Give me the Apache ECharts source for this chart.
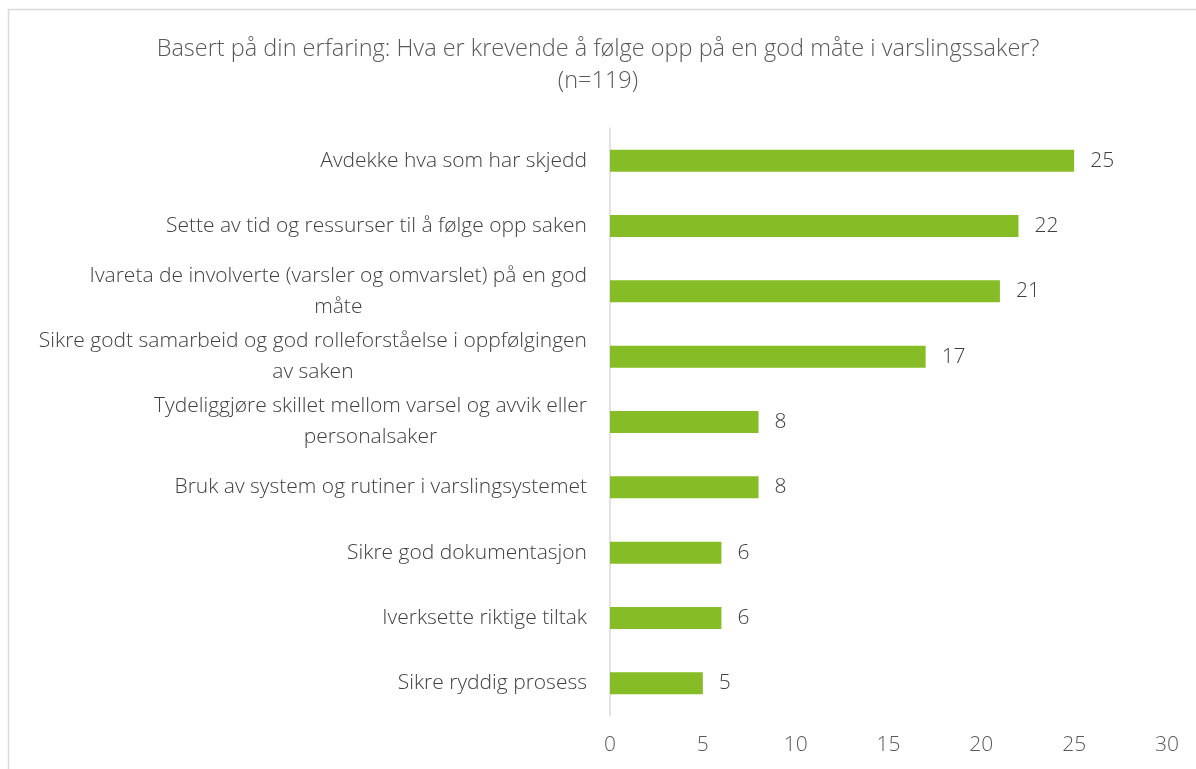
<!DOCTYPE html>
<html>
<head>
<meta charset="utf-8">
<script src="https://cdn.jsdelivr.net/npm/echarts@6/dist/echarts.min.js"></script>
<style>
  html, body { margin: 0; padding: 0; background: #fff; }
  #chart { width: 1196px; height: 769px; }
</style>
</head>
<body>
<div id="chart"></div>
<script>
// kategorier (ovenfra og ned), linjeskift som i originalen
const categories = [
  'Avdekke hva som har skjedd',
  'Sette av tid og ressurser til å følge opp saken',
  'Ivareta de involverte (varsler og omvarslet) på en god\nmåte',
  'Sikre godt samarbeid og god rolleforståelse i oppfølgingen\nav saken',
  'Tydeliggjøre skillet mellom varsel og avvik eller\npersonalsaker',
  'Bruk av system og rutiner i varslingsystemet',
  'Sikre god dokumentasjon',
  'Iverksette riktige tiltak',
  'Sikre ryddig prosess'
]
const counts = [25, 22, 21, 17, 8, 8, 6, 6, 5]
const titleLines = [
  'Basert på din erfaring: Hva er krevende å følge opp på en god måte i varslingssaker?',
  '(n=119)'
]

const font = '"Open Sans", sans-serif'
const chart = echarts.init(document.getElementById('chart'))

const option = {
  backgroundColor: '#fff',
  animation: false,
  title: {
    text: titleLines.join('\n'),
    left: 'center',
    top: 28,
    textStyle: {
      fontFamily: font,
      fontWeight: 300,
      fontSize: 23.5,
      lineHeight: 32,
      color: '#595959'
    }
  },
  graphic: [
    {
      type: 'rect',
      shape: { x: 8.5, y: 9.5, width: 1200, height: 800 },
      style: { fill: 'none', stroke: '#d9d9d9', lineWidth: 1.5 },
      silent: true
    }
  ],
  grid: {
    left: 610,
    right: 29,
    top: 128,
    bottom: 53
  },
  xAxis: {
    type: 'value',
    min: 0,
    max: 30,
    interval: 5,
    axisLine: { show: false },
    axisTick: { show: false },
    splitLine: { show: false },
    axisLabel: {
      margin: 19,
      fontFamily: font,
      fontWeight: 300,
      fontSize: 21,
      color: '#595959'
    }
  },
  yAxis: {
    type: 'category',
    inverse: true,
    data: categories,
    axisLine: { show: true, lineStyle: { color: '#d9d9d9', width: 1.5 } },
    axisTick: { show: false },
    axisLabel: {
      margin: 23,
      fontFamily: font,
      fontWeight: 300,
      fontSize: 21,
      lineHeight: 31,
      color: '#404040',
      formatter: function (v) {
        return v.split('\n').map(function (l) { return '{c|' + l + '}' }).join('\n')
      },
      rich: {
        c: {
          align: 'center',
          fontFamily: font,
          fontWeight: 300,
          fontSize: 21,
          lineHeight: 31,
          color: '#404040'
        }
      }
    }
  },
  series: [
    {
      type: 'bar',
      data: counts,
      barWidth: 22,
      itemStyle: { color: '#86bc25' },
      label: {
        show: true,
        position: 'right',
        distance: 16,
        fontFamily: font,
        fontWeight: 300,
        fontSize: 21,
        color: '#404040'
      }
    }
  ]
}

chart.setOption(option)
</script>
</body>
</html>
